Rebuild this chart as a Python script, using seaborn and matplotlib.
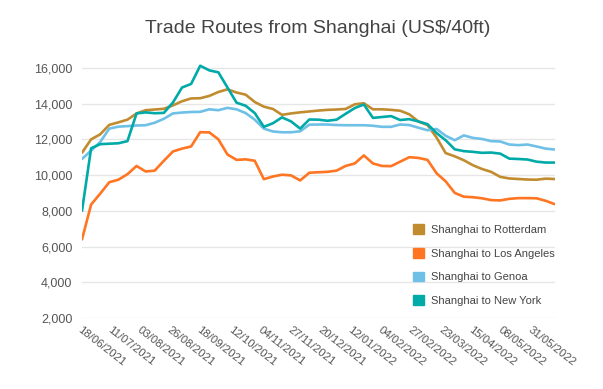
import pandas as pd
import seaborn as sns
import matplotlib.pyplot as plt
from matplotlib.patches import Patch
from matplotlib.ticker import FuncFormatter

# weekly readings, 18/06/2021 onwards
weeks = pd.date_range("2021-06-18", periods=53, freq="7D")

rotterdam = [11250, 12000, 12280, 12810, 12950, 13100, 13450, 13630, 13670, 13710,
             13900, 14130, 14290, 14300, 14430, 14650, 14800, 14620, 14500, 14090,
             13830, 13700, 13370, 13450, 13510, 13560, 13610, 13650, 13670, 13700,
             13960, 14020, 13680, 13680, 13650, 13600, 13400, 13000, 12800, 12100,
             11230, 11050, 10830, 10550, 10340, 10180, 9900, 9810, 9780, 9750,
             9740, 9800, 9780]
los_angeles = [6400, 8350, 8960, 9600, 9740, 10050, 10510, 10200, 10250, 10800,
               11320, 11480, 11600, 12400, 12390, 12000, 11150, 10850, 10880, 10800,
               9770, 9920, 10020, 9980, 9700, 10130, 10160, 10180, 10250, 10510,
               10650, 11100, 10650, 10510, 10500, 10750, 11000, 10960, 10850, 10100,
               9650, 9000, 8790, 8760, 8700, 8600, 8580, 8670, 8710, 8710,
               8700, 8560, 8370]
genoa = [10900, 11370, 11850, 12600, 12710, 12740, 12775, 12790, 12930, 13150,
         13450, 13500, 13530, 13540, 13680, 13630, 13760, 13680, 13470, 13100,
         12600, 12440, 12395, 12395, 12450, 12820, 12830, 12830, 12800, 12790,
         12790, 12790, 12760, 12700, 12700, 12830, 12800, 12650, 12510, 12580,
         12200, 11950, 12220, 12080, 12020, 11900, 11880, 11710, 11675, 11710,
         11600, 11480, 11430]
new_york = [8000, 11500, 11730, 11755, 11780, 11900, 13450, 13510, 13460, 13480,
            14060, 14900, 15100, 16120, 15860, 15750, 14900, 14050, 13880, 13470,
            12700, 12900, 13230, 13000, 12600, 13110, 13100, 13040, 13100, 13430,
            13750, 13950, 13200, 13250, 13300, 13080, 13130, 13000, 12850, 12350,
            11950, 11440, 11340, 11300, 11245, 11260, 11200, 10920, 10900, 10870,
            10750, 10700, 10700]

tick_labels = ["18/06/2021", "11/07/2021", "03/08/2021", "26/08/2021", "18/09/2021",
               "12/10/2021", "04/11/2021", "27/11/2021", "20/12/2021", "12/01/2022",
               "04/02/2022", "27/02/2022", "23/03/2022", "15/04/2022", "08/05/2022",
               "31/05/2022"]

routes = ["Shanghai to Rotterdam", "Shanghai to Los Angeles",
          "Shanghai to Genoa", "Shanghai to New York"]
colors = ["#C18C30", "#FF7522", "#6EC0E6", "#00AAA8"]
palette = dict(zip(routes, colors))

df = pd.DataFrame({
    "date": weeks,
    routes[0]: rotterdam,
    routes[1]: los_angeles,
    routes[2]: genoa,
    routes[3]: new_york,
})
long_df = df.melt(id_vars="date", var_name="route", value_name="rate")

sns.set_style("white")
plt.rcParams["font.family"] = ["Liberation Sans", "DejaVu Sans"]

fig = plt.figure(figsize=(6.03, 3.89), dpi=100)
ax = fig.add_axes([0.136, 0.1825, 0.784, 0.666])

sns.lineplot(data=long_df, x="date", y="rate", hue="route", hue_order=routes,
             palette=palette, linewidth=1.9, legend=False, ax=ax)

ax.set_ylim(2000, 16500)
ax.set_yticks(range(2000, 16001, 2000))
ax.yaxis.set_major_formatter(FuncFormatter(lambda v, _: f"{int(v):,}"))
ax.set_xlim(weeks[0], weeks[-1])
ax.set_xticks(pd.to_datetime(tick_labels, format="%d/%m/%Y"))
ax.set_xticklabels(tick_labels, rotation=-38, ha="left", va="top",
                   rotation_mode="anchor")
ax.tick_params(axis="both", length=0, labelcolor="#555555")
ax.tick_params(axis="y", labelsize=9, pad=7)
ax.tick_params(axis="x", labelsize=8.2, pad=5)
ax.grid(axis="y", color="#E6E6E6", linewidth=1)
ax.set_axisbelow(True)
for side in ax.spines.values():
    side.set_visible(False)
ax.set_xlabel("")
ax.set_ylabel("")

fig.text(0.527, 0.928, "Trade Routes from Shanghai (US$/40ft)", ha="center",
         va="center", fontsize=14, color="#444444")

handles = [Patch(facecolor=c, edgecolor=c, label=r) for r, c in zip(routes, colors)]
ax.legend(handles=handles, loc="upper left", bbox_to_anchor=(0.68, 0.4),
          frameon=False, fontsize=8, labelcolor="#444444", handlelength=0.95,
          handleheight=0.95, handletextpad=0.6, labelspacing=1.17)

fig.savefig("out.png", dpi=100)
